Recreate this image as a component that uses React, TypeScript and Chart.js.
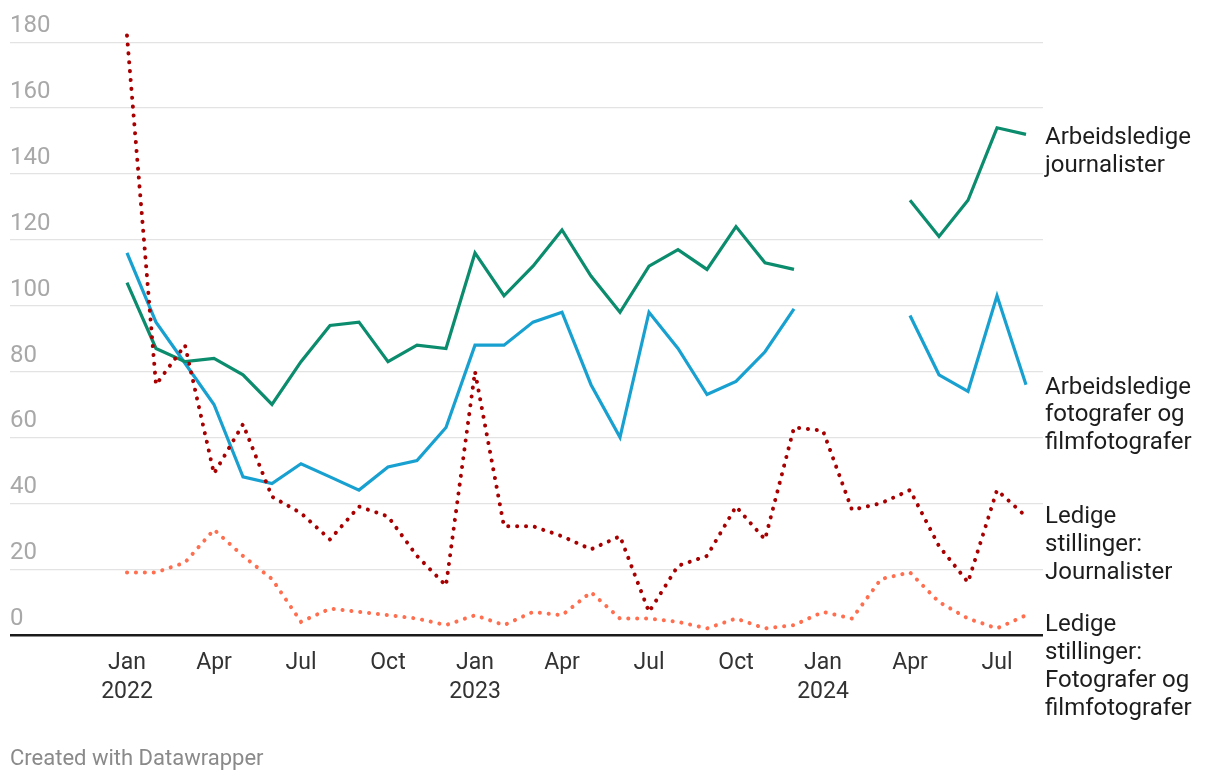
import React, { useEffect, useRef } from "react";
import { Chart, registerables } from "chart.js";

Chart.register(...registerables);

// Months Jan 2022 .. Aug 2024 (index 0..31)
const months = [
  "2022-01", "2022-02", "2022-03", "2022-04", "2022-05", "2022-06", "2022-07", "2022-08", "2022-09", "2022-10", "2022-11", "2022-12",
  "2023-01", "2023-02", "2023-03", "2023-04", "2023-05", "2023-06", "2023-07", "2023-08", "2023-09", "2023-10", "2023-11", "2023-12",
  "2024-01", "2024-02", "2024-03", "2024-04", "2024-05", "2024-06", "2024-07", "2024-08",
];

const xTickLabels: (string | string[])[] = [
  ["Jan", "2022"], "Apr", "Jul", "Oct",
  ["Jan", "2023"], "Apr", "Jul", "Oct",
  ["Jan", "2024"], "Apr", "Jul",
];

const yTickValues = [0, 20, 40, 60, 80, 100, 120, 140, 160, 180];

const arbeidsledigeJournalister: (number | null)[] = [
  107, 87, 83, 84, 79, 70, 83, 94, 95, 83, 88, 87,
  116, 103, 112, 123, 109, 98, 112, 117, 111, 124, 113, 111,
  null, null, null, 132, 121, 132, 154, 152,
];

const arbeidsledigeFotografer: (number | null)[] = [
  116, 95, 82.5, 70, 48, 46, 52, 48, 44, 51, 53, 63,
  88, 88, 95, 98, 76, 60, 98, 87, 73, 77, 86, 99,
  null, null, null, 97, 79, 74, 103, 76,
];

const ledigeJournalister: (number | null)[] = [
  182, 76, 88, 49, 64, 42, 37, 29, 39, 36, 24, 15,
  80, 33, 33, 30, 26, 30, 7, 21, 24, 39, 29, 63,
  62, 38, 40, 44, 27, 16, 44, 36,
];

const ledigeFotografer: (number | null)[] = [
  19, 19, 22, 32, 24, 17, 4, 8, 7, 6, 5, 3,
  6, 3, 7, 6, 13, 5, 5, 4, 2, 5, 2, 3,
  7, 5, 17, 19, 10, 5, 2, 6,
];

const labelJournalister = ["Arbeidsledige", "journalister"];
const labelFotografer = ["Arbeidsledige", "fotografer og", "filmfotografer"];
const labelLedigeJournalister = ["Ledige", "stillinger:", "Journalister"];
const labelLedigeFotografer = ["Ledige", "stillinger:", "Fotografer og", "filmfotografer"];

const toPoints = (arr: (number | null)[]) => arr.map((y, i) => ({ x: i, y }));

export default function App() {
  const ref = useRef<HTMLCanvasElement>(null);

  useEffect(() => {
    document.body.style.margin = "0";
    const canvas = ref.current;
    if (!canvas) return;

    const FONT = "Roboto";

    const endLabels = {
      id: "endLabels",
      afterDatasetsDraw(chart: any) {
        const { ctx, chartArea, scales } = chart;
        const items = [
          { series: arbeidsledigeJournalister, lines: labelJournalister, shift: 4 },
          { series: arbeidsledigeFotografer, lines: labelFotografer, shift: 3 },
          { series: ledigeJournalister, lines: labelLedigeJournalister, shift: 1 },
          { series: ledigeFotografer, lines: labelLedigeFotografer, shift: 10 },
        ];
        ctx.save();
        ctx.font = `24px ${FONT}`;
        ctx.fillStyle = "#1d1d1d";
        ctx.textAlign = "left";
        ctx.textBaseline = "middle";
        const lh = 27.8;
        for (const it of items) {
          let last: number | null = null;
          for (let i = it.series.length - 1; i >= 0; i--) {
            if (it.series[i] != null) { last = it.series[i] as number; break; }
          }
          if (last == null) continue;
          const y0 = scales.y.getPixelForValue(last) + it.shift;
          it.lines.forEach((t: string, k: number) => {
            ctx.fillText(t, chartArea.right + 2, y0 + k * lh);
          });
        }
        ctx.restore();
      },
    };

    const chart = new Chart(canvas, {
      type: "line",
      data: {
        labels: months,
        datasets: [
          {
            label: "Ledige stillinger: Journalister",
            data: toPoints(ledigeJournalister) as any,
            borderColor: "#a80000",
            borderWidth: 4,
            borderDash: [0.1, 8.8],
            borderCapStyle: "round",
            pointRadius: 0,
            tension: 0,
          },
          {
            label: "Ledige stillinger: Fotografer og filmfotografer",
            data: toPoints(ledigeFotografer) as any,
            borderColor: "#ff6e4e",
            borderWidth: 4,
            borderDash: [0.1, 8.8],
            borderCapStyle: "round",
            pointRadius: 0,
            tension: 0,
          },
          {
            label: "Arbeidsledige journalister",
            data: toPoints(arbeidsledigeJournalister) as any,
            borderColor: "#0a8c6d",
            borderWidth: 3.2,
            pointRadius: 0,
            tension: 0,
            spanGaps: false,
          },
          {
            label: "Arbeidsledige fotografer og filmfotografer",
            data: toPoints(arbeidsledigeFotografer) as any,
            borderColor: "#18a1d0",
            borderWidth: 3.2,
            pointRadius: 0,
            tension: 0,
            spanGaps: false,
          },
        ],
      },
      options: {
        responsive: false,
        animation: false,
        events: [],
        layout: { padding: { left: 10, right: 177, top: 29, bottom: 0 } },
        plugins: {
          legend: { display: false },
          tooltip: { enabled: false },
          title: { display: false },
        },
        scales: {
          x: {
            type: "linear",
            min: -4.034,
            max: 31.586,
            grid: { display: false, drawTicks: false },
            border: { display: false },
            afterBuildTicks: (scale: any) => {
              scale.ticks = xTickLabels.map((_, i) => ({ value: i * 3 }));
            },
            afterFit: (scale: any) => {
              scale.height = 147;
            },
            ticks: {
              autoSkip: false,
              maxRotation: 0,
              padding: 14,
              color: "#333333",
              font: { family: FONT, size: 23, lineHeight: 1.26 },
              callback: (v: any) => xTickLabels[Math.round(Number(v) / 3)] as any,
            },
          },
          y: {
            min: 0,
            max: 184,
            afterBuildTicks: (scale: any) => {
              scale.ticks = yTickValues.map((v) => ({ value: v }));
            },
            grid: {
              drawTicks: false,
              color: (c: any) => (c.tick && c.tick.value === 0 ? "#1a1a1a" : "#e3e3e3"),
              lineWidth: (c: any) => (c.tick && c.tick.value === 0 ? 2.5 : 1.2),
            },
            border: { display: false },
            ticks: {
              mirror: true,
              padding: 0,
              labelOffset: -16,
              color: "#a8a8a8",
              font: { family: FONT, size: 24 },
            },
          },
        },
      },
      plugins: [endLabels],
    });

    return () => chart.destroy();
  }, []);

  return (
    <div style={{ position: "relative", width: 1220, height: 782 }}>
      <canvas ref={ref} width={1220} height={782} style={{ display: "block" }} />
      <div
        style={{
          position: "absolute",
          left: 10,
          top: 745,
          fontFamily: "Roboto",
          fontSize: 22,
          lineHeight: "26px",
          color: "#8a8a8a",
          whiteSpace: "nowrap",
        }}
      >
        Created with Datawrapper
      </div>
    </div>
  );
}
